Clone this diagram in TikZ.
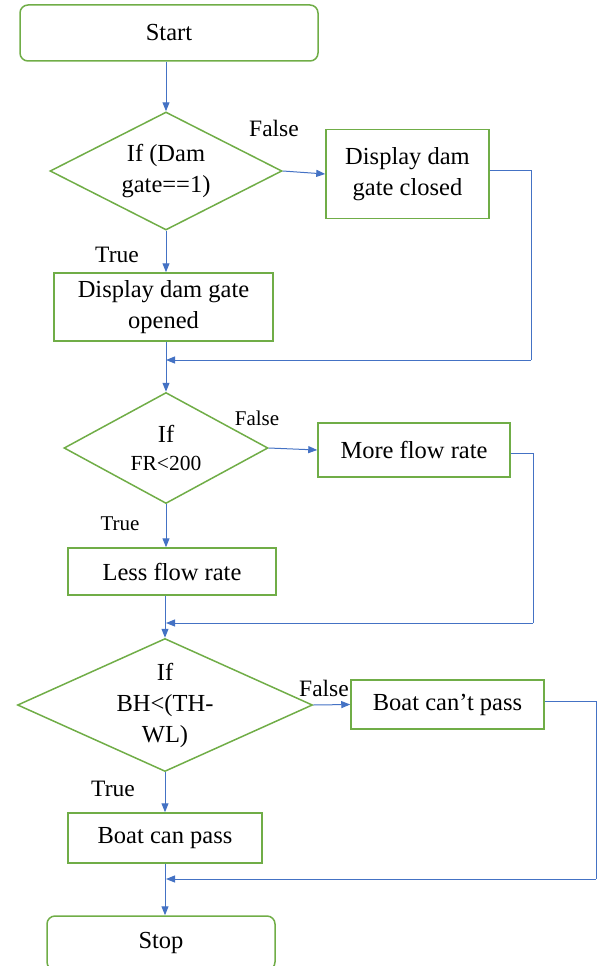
\documentclass[tikz,border=0pt]{standalone}
\usepackage{fontspec}
\setmainfont{Liberation Serif}
\usetikzlibrary{shapes.geometric,arrows.meta}
\definecolor{boxgreen}{RGB}{112,173,71}
\definecolor{lineblue}{RGB}{68,114,196}
\tikzset{
  box/.style={draw=boxgreen,line width=1.5pt,rectangle,align=center,inner sep=0pt,
    font=\fontsize{24.5}{31}\selectfont},
  term/.style={box,rounded corners=8pt},
  test/.style={box,diamond,aspect=2},
  flow/.style={draw=lineblue,line width=1pt,-{Triangle[length=9pt,width=7pt]}},
  link/.style={draw=lineblue,line width=1pt},
  tag/.style={inner sep=0pt,font=\fontsize{23.5}{26}\selectfont}
}
\begin{document}
\begin{tikzpicture}[x=1pt,y=-1pt]
   \useasboundingbox (0,0) rectangle (600,966);
   \clip (0,0) rectangle (600,966);
   % boxes
   \node[term,minimum width=298pt,minimum height=56pt] (start) at (169,33) {Start};
   \node[test,minimum width=232pt,minimum height=118pt] (gate) at (166,171) {If (Dam\\gate==1)};
   \node[box,minimum width=163pt,minimum height=89pt] (closed) at (407.5,174) {Display dam\\gate closed};
   \node[box,minimum width=219pt,minimum height=68pt] (opened) at (163.5,307) {Display dam gate\\opened};
   \node[test,minimum width=204pt,minimum height=111pt] (rate) at (166,448) {If\\[-3pt]{\fontsize{21.5}{26}\selectfont FR<200}};
   \node[box,minimum width=192pt,minimum height=54pt] (more) at (414,450) {More flow rate};
   \node[box,minimum width=208pt,minimum height=47pt] (less) at (172,571.5) {Less flow rate};
   \node[test,minimum width=295pt,minimum height=133pt] (boat) at (165,705) {If\\BH<(TH-\\WL)};
   \node[box,minimum width=193pt,minimum height=49pt] (cant) at (447.5,704.5) {Boat can’t pass};
   \node[box,minimum width=194pt,minimum height=50pt] (can) at (165,838) {Boat can pass};
   \node[term,minimum width=228pt,minimum height=54pt] (stop) at (161,943) {Stop};
   % labels
   \node[tag] (f1) at (274,128) {False};
   \node[tag] (t1) at (117,255) {True};
   \node[tag,font=\fontsize{21}{24}\selectfont] (f2) at (257,418) {False};
   \node[tag,font=\fontsize{21}{24}\selectfont] (t2) at (120,524) {True};
   \node[tag] (f3) at (324,688) {False};
   \node[tag] (t3) at (113,789) {True};
   % return points
   \coordinate (r1) at (531,170);
   \coordinate (m1) at (166,360);
   \coordinate (r2) at (533,453);
   \coordinate (m2) at (166,623);
   \coordinate (r3) at (596,701);
   \coordinate (m3) at (166,879);
   % connectors
   \draw[flow] (gate.north |- start.south) -- (gate.north);
   \draw[flow] (gate.east) -- (closed.west);
   \draw[flow] (gate.south) -- (gate.south |- opened.north);
   \draw[link] (closed.east |- r1) -- (r1) -- (r1 |- m1);
   \draw[flow] (r1 |- m1) -- (m1);
   \draw[flow] (rate.north |- opened.south) -- (rate.north);
   \draw[flow] (rate.east) -- (more.west);
   \draw[flow] (rate.south) -- (rate.south |- less.north);
   \draw[link] (more.east |- r2) -- (r2) -- (r2 |- m2);
   \draw[flow] (r2 |- m2) -- (m2);
   \draw[flow] (boat.north |- less.south) -- (boat.north);
   \draw[flow] (boat.east) -- (cant.west);
   \draw[flow] (boat.south) -- (boat.south |- can.north);
   \draw[link] (cant.east |- r3) -- (r3) -- (r3 |- m3);
   \draw[flow] (r3 |- m3) -- (m3);
   \draw[flow] (can.south) -- (can.south |- stop.north);
\end{tikzpicture}
\end{document}
